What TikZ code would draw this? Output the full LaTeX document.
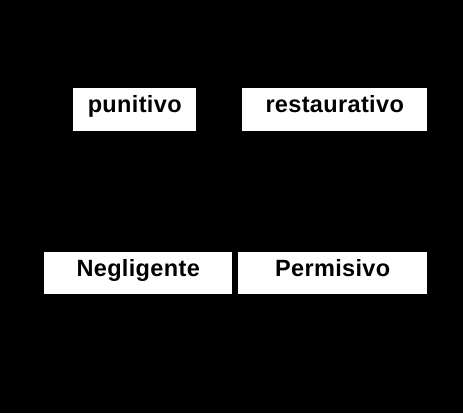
\documentclass[tikz,border=0pt]{standalone}
\usepackage{fontspec}
\setmainfont{Liberation Sans}
\usepackage{tikz}
\tikzset{caja/.style={fill=white, text=black, inner sep=0pt, anchor=north west,
		text height=24pt, text depth=19pt, font=\fontsize{23.5}{23.5}\selectfont\bfseries\addfontfeatures{LetterSpace=1.5}}}

\begin{document}
\begin{tikzpicture}[x=1pt, y=1pt]
				\useasboundingbox (0,0) rectangle (463,413);
				\fill[black] (0,0) rectangle (463,413);
				\node[caja, minimum width=123pt] (punitivo) at (73,325) {punitivo};
				\node[caja, minimum width=185pt] (restaurativo) at (242,325) {restaurativo};
				\node[caja, minimum width=188pt, text depth=18pt] (negligente) at (44,161) {Negligente};
				\node[caja, minimum width=189pt, text depth=18pt] (permisivo) at (238,161) {Permisivo};
			\end{tikzpicture}
\end{document}
